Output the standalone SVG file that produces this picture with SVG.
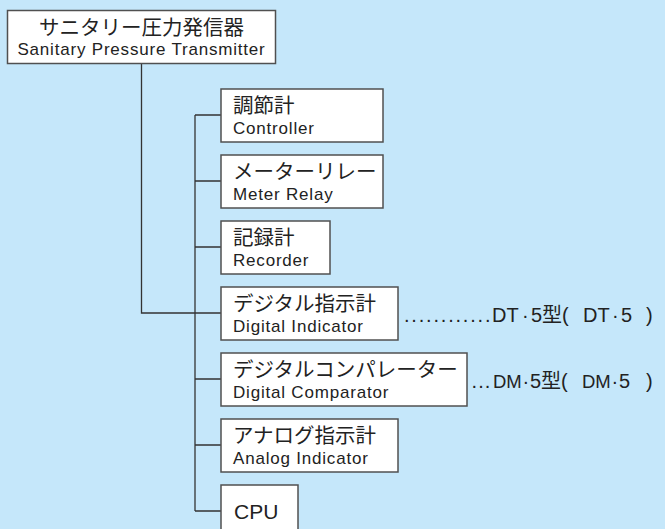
<svg xmlns="http://www.w3.org/2000/svg" width="665" height="529" viewBox="0 0 665 529">
<style>
.bg{fill:#C5E7FA}
.box{fill:#FFFFFF;stroke:#505050;stroke-width:1.5}
.ln{fill:none;stroke:#333333;stroke-width:1.3}
.jp{font-family:"Noto Sans CJK JP","Noto Sans CJK SC",sans-serif;font-size:20.5px;fill:#222222}
.en{font-family:"Liberation Sans",Arial,sans-serif;font-size:17px;letter-spacing:0.8px;fill:#222222}
.cpu{font-family:"Liberation Sans",Arial,sans-serif;font-size:21px;fill:#222222}
.ref{font-family:"Liberation Sans","Noto Sans CJK JP",sans-serif;font-size:20px;fill:#222222}
.nm{font-size:18.5px}
</style>
<rect class="bg" x="0" y="0" width="665" height="529"/>
<g id="connectors">
<path class="ln" d="M141.5,63.5 V313 H221"/>
<path class="ln" d="M195,115 V511"/>
<path class="ln" d="M195,115 H221 M195,181 H221 M195,247 H221 M195,379 H221 M195,445 H221 M195,511 H221"/>
</g>
<g id="node-transmitter">
<rect class="box" x="7.5" y="10.5" width="268" height="53"/>
<text class="jp" x="141.5" y="34.5" text-anchor="middle">サニタリー圧力発信器</text>
<text class="en" x="141.5" y="55" text-anchor="middle">Sanitary Pressure Transmitter</text>
</g>
<g id="node-controller">
<rect class="box" x="221" y="89" width="162" height="53"/>
<text class="jp" x="233" y="113">調節計</text>
<text class="en" x="233" y="134">Controller</text>
</g>
<g id="node-meter-relay">
<rect class="box" x="221" y="155" width="162" height="53"/>
<text class="jp" x="233" y="179">メーターリレー</text>
<text class="en" x="233" y="200">Meter Relay</text>
</g>
<g id="node-recorder">
<rect class="box" x="221" y="221" width="109" height="53"/>
<text class="jp" x="233" y="245">記録計</text>
<text class="en" x="233" y="266">Recorder</text>
</g>
<g id="node-digital-indicator">
<rect class="box" x="221" y="287" width="177" height="53"/>
<text class="jp" x="233" y="311">デジタル指示計</text>
<text class="en" x="233" y="332">Digital Indicator</text>
</g>
<g id="node-digital-comparator">
<rect class="box" x="221" y="353" width="246" height="53"/>
<text class="jp" x="233" y="377">デジタルコンパレーター</text>
<text class="en" x="233" y="398">Digital Comparator</text>
</g>
<g id="node-analog-indicator">
<rect class="box" x="221" y="419" width="177" height="53"/>
<text class="jp" x="233" y="443">アナログ指示計</text>
<text class="en" x="233" y="464">Analog Indicator</text>
</g>
<g id="node-cpu">
<rect class="box" x="221" y="485" width="77" height="56"/>
<text class="cpu" x="234" y="519">CPU</text>
</g>
<g id="label-dt">
<text class="ref" y="322"><tspan x="404" letter-spacing="1.8">............</tspan><tspan x="492">DT</tspan><tspan x="522">·</tspan><tspan x="531">5型( </tspan><tspan x="583">DT</tspan><tspan x="612">·</tspan><tspan x="621">5 </tspan><tspan x="646">)</tspan></text>
</g>
<g id="label-dm">
<text class="ref" y="388"><tspan x="471.5" letter-spacing="1.1">...</tspan><tspan class="nm" x="493">DM</tspan><tspan x="522.5">·</tspan><tspan x="530">5型( </tspan><tspan class="nm" x="582">DM</tspan><tspan x="611.5">·</tspan><tspan x="619">5 </tspan><tspan x="646">)</tspan></text>
</g>
</svg>
